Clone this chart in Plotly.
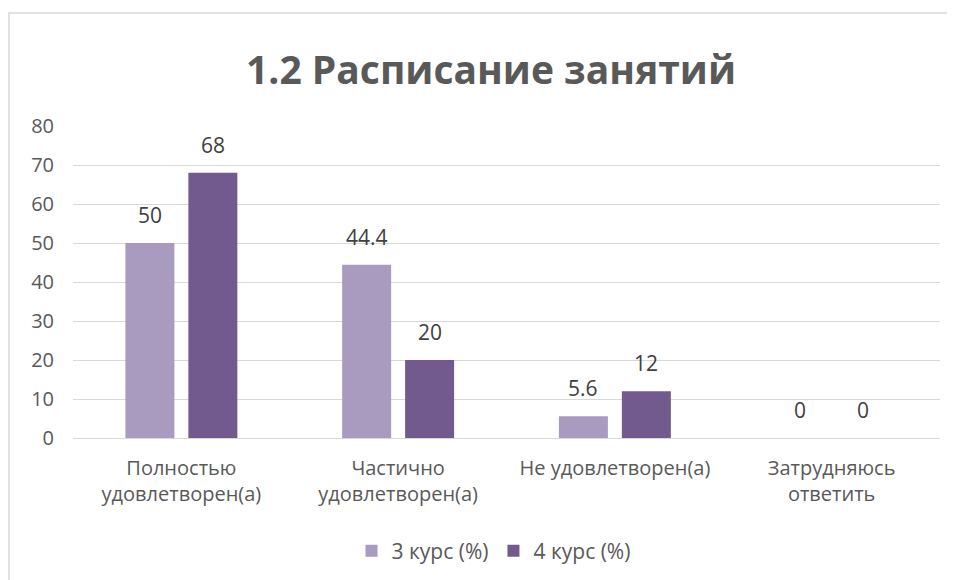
import plotly.graph_objects as go

categories = ["Полностью<br>удовлетворен(а)", "Частично<br>удовлетворен(а)", "Не удовлетворен(а)", "Затрудняюсь<br>ответить"]
series_names = ["3 курс (%)", "4 курс (%)"]
values_3 = [50, 44.4, 5.6, 0]
values_4 = [68, 20, 12, 0]
colors = ["#A99BBF", "#725A8F"]
y_ticks = [0, 10, 20, 30, 40, 50, 60, 70, 80]

L, R, T, B = 65, 23, 118, 150
PW, PH = 955 - L - R, 580 - T - B
BAR_SLOT_PX = 63  # half-distance between paired bar centres * 2

fig = go.Figure()
annotations = []
for i, (name, vals, col) in enumerate(zip(series_names, [values_3, values_4], colors)):
    fig.add_trace(go.Bar(
        x=categories, y=vals, name=name, marker=dict(color=col, line=dict(width=0)),
    ))
    shift = (i - 0.5) * BAR_SLOT_PX
    for c, v in zip(categories, vals):
        annotations.append(dict(
            x=c, y=v, xref="x", yref="y", text=str(v), showarrow=False,
            xanchor="center", yanchor="bottom", xshift=shift, yshift=12,
            font=dict(family="Open Sans", size=21, color="#404040"),
        ))

fig.update_layout(
    width=955, height=580,
    margin=dict(l=L, r=R, t=T, b=B),
    paper_bgcolor="white", plot_bgcolor="white",
    barmode="group", bargap=0.419, bargroupgap=0.222,
    title=dict(text="<b>1.2 Расписание занятий</b>", x=483/955, xanchor="center",
               y=1 - 62/580, yanchor="middle",
               font=dict(family="Open Sans", size=39, color="#595959")),
    font=dict(family="Open Sans", size=20, color="#595959"),
    showlegend=True,
    legend=dict(orientation="h", x=(485.5 - L) / PW, xanchor="center", y=(PH - (543 - T)) / PH,
                yanchor="middle", font=dict(size=21, color="#595959"), traceorder="normal"),
    xaxis=dict(showgrid=False, showline=True, linecolor="#D9D9D9", linewidth=1,
               tickfont=dict(size=20, color="#595959"), ticks="", ticklabelstandoff=12),
    yaxis=dict(range=[0, 80], tickvals=y_ticks, showgrid=True, gridcolor="#D9D9D9",
               gridwidth=1, zeroline=False, showline=False, ticks="", ticklabelstandoff=18,
               tickfont=dict(size=20, color="#595959")),
    annotations=annotations,
    shapes=[dict(type="rect", xref="paper", yref="paper",
                 x0=(1 - L) / PW, x1=1 + 40 / PW, y0=-0.7, y1=1 + 113 / PH,
                 line=dict(color="#D9D9D9", width=1.5), fillcolor="rgba(0,0,0,0)", layer="below")],
)

fig.write_html("out.html")
